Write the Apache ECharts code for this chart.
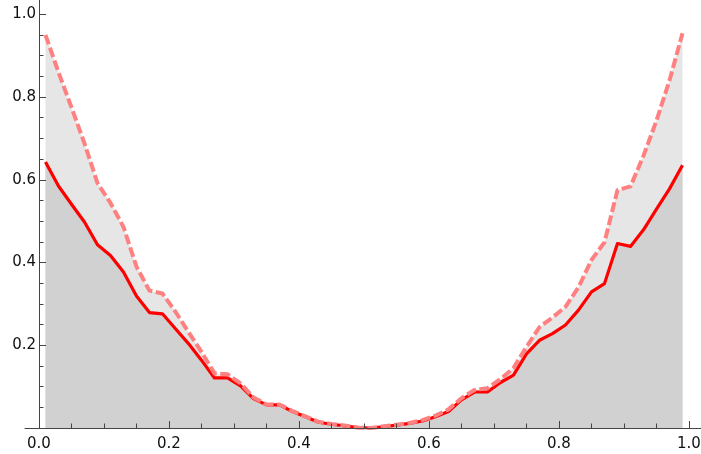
<!DOCTYPE html>
<html>
<head>
<meta charset="utf-8">
<script src="https://cdn.jsdelivr.net/npm/echarts@6/dist/echarts.min.js"></script>
<style>
  html, body { margin: 0; padding: 0; background: #ffffff; }
  #chart { width: 701px; height: 454px; }
</style>
</head>
<body>
<div id="chart"></div>
<script>
// Sample positions along x
const xValues = [
  0.01, 0.03, 0.05, 0.07, 0.09, 0.11, 0.13, 0.15, 0.17, 0.19,
  0.21, 0.23, 0.25, 0.27, 0.29, 0.31, 0.33, 0.35, 0.37, 0.39,
  0.41, 0.43, 0.45, 0.47, 0.49, 0.51, 0.53, 0.55, 0.57, 0.59,
  0.61, 0.63, 0.65, 0.67, 0.69, 0.71, 0.73, 0.75, 0.77, 0.79,
  0.81, 0.83, 0.85, 0.87, 0.89, 0.91, 0.93, 0.95, 0.97, 0.99
];

// Lower curve (solid red)
const solidValues = [
  0.643, 0.585, 0.541, 0.498, 0.443, 0.417, 0.377, 0.319, 0.279, 0.276,
  0.240, 0.204, 0.164, 0.121, 0.121, 0.102, 0.071, 0.056, 0.056, 0.040,
  0.027, 0.014, 0.009, 0.005, 0.001, 0.000, 0.003, 0.007, 0.011, 0.017,
  0.027, 0.040, 0.068, 0.087, 0.087, 0.110, 0.128, 0.179, 0.212, 0.228,
  0.249, 0.285, 0.329, 0.349, 0.446, 0.439, 0.479, 0.529, 0.578, 0.635
];

// Upper curve (dashed pink)
const dashedValues = [
  0.950, 0.860, 0.775, 0.688, 0.592, 0.544, 0.486, 0.390, 0.332, 0.325,
  0.281, 0.232, 0.184, 0.132, 0.130, 0.108, 0.074, 0.057, 0.057, 0.041,
  0.028, 0.015, 0.010, 0.006, 0.001, 0.000, 0.004, 0.008, 0.012, 0.019,
  0.030, 0.045, 0.072, 0.092, 0.096, 0.118, 0.145, 0.196, 0.244, 0.267,
  0.293, 0.340, 0.406, 0.449, 0.575, 0.584, 0.658, 0.743, 0.840, 0.954
];

// Tick positions
const xMajorTicks = [0, 0.2, 0.4, 0.6, 0.8, 1.0];
const yMajorTicks = [0.2, 0.4, 0.6, 0.8, 1.0];
const xMinorTicks = [0.05, 0.1, 0.15, 0.25, 0.3, 0.35, 0.45, 0.5, 0.55, 0.65, 0.7, 0.75, 0.85, 0.9, 0.95];
const yMinorTicks = [0.05, 0.1, 0.15, 0.25, 0.3, 0.35, 0.45, 0.5, 0.55, 0.65, 0.7, 0.75, 0.85, 0.9, 0.95];

// Axis extents (axes run a little past the plotted range)
const xRange = [-0.0215, 1.0185];
const yRange = [0, 1.0346];

const AXIS_COLOR = '#444444';
const LABEL_FONT = 'DejaVu Sans';
const GRID_LEFT = 25;
const Y_AXIS_SHIFT = -14; // moves the vertical axis onto x = 0

const pairs = ys => xValues.map((x, i) => [x, ys[i]]);
const fmt = v => Number(v).toFixed(1);

function makeXAxis(major) {
  return {
    type: 'value',
    position: 'bottom',
    min: xRange[0],
    max: xRange[1],
    z: 10,
    axisLine: {
      show: major,
      onZero: false,
      lineStyle: { color: AXIS_COLOR, width: 1 }
    },
    axisTick: {
      show: true,
      inside: true,
      length: major ? 7 : 4.5,
      customValues: major ? xMajorTicks : xMinorTicks,
      lineStyle: { color: AXIS_COLOR, width: 1 }
    },
    axisLabel: major ? {
      show: true,
      customValues: xMajorTicks,
      formatter: fmt,
      fontFamily: LABEL_FONT,
      fontSize: 15,
      color: '#111111',
      margin: 9
    } : { show: false },
    splitLine: { show: false },
    minorTick: { show: false }
  };
}

function makeYAxis(major) {
  return {
    type: 'value',
    position: 'left',
    offset: Y_AXIS_SHIFT,
    min: yRange[0],
    max: yRange[1],
    z: 10,
    axisLine: {
      show: major,
      onZero: false,
      lineStyle: { color: AXIS_COLOR, width: 1 }
    },
    axisTick: {
      show: true,
      inside: true,
      length: major ? 7 : 4.5,
      customValues: major ? yMajorTicks : yMinorTicks,
      lineStyle: { color: AXIS_COLOR, width: 1 }
    },
    axisLabel: major ? {
      show: true,
      customValues: yMajorTicks,
      formatter: fmt,
      fontFamily: LABEL_FONT,
      fontSize: 15,
      color: '#111111',
      margin: 3
    } : { show: false },
    splitLine: { show: false },
    minorTick: { show: false }
  };
}

const chart = echarts.init(document.getElementById('chart'), null, { renderer: 'canvas' });

chart.setOption({
  animation: false,
  backgroundColor: '#ffffff',
  grid: {
    left: GRID_LEFT,
    right: 0,
    top: 0,
    bottom: 26,
    containLabel: false,
    outerBoundsMode: 'none'
  },
  xAxis: [makeXAxis(true), makeXAxis(false)],
  yAxis: [makeYAxis(true), makeYAxis(false)],
  series: [
    {
      // light fill under the upper curve
      type: 'line',
      data: pairs(dashedValues),
      showSymbol: false,
      silent: true,
      lineStyle: { width: 0 },
      areaStyle: { color: '#e6e6e6', opacity: 1 },
      z: 1
    },
    {
      // darker fill under the lower curve
      type: 'line',
      data: pairs(solidValues),
      showSymbol: false,
      silent: true,
      lineStyle: { width: 0 },
      areaStyle: { color: '#d1d1d1', opacity: 1 },
      z: 2
    },
    {
      type: 'line',
      data: pairs(solidValues),
      showSymbol: false,
      lineStyle: { color: '#ff0000', width: 3.2, cap: 'butt', join: 'round' },
      z: 3
    },
    {
      type: 'line',
      data: pairs(dashedValues),
      showSymbol: false,
      lineStyle: { color: '#ff8080', width: 4, type: [10, 3.5], cap: 'butt', join: 'round' },
      z: 4
    }
  ]
});
</script>
</body>
</html>
